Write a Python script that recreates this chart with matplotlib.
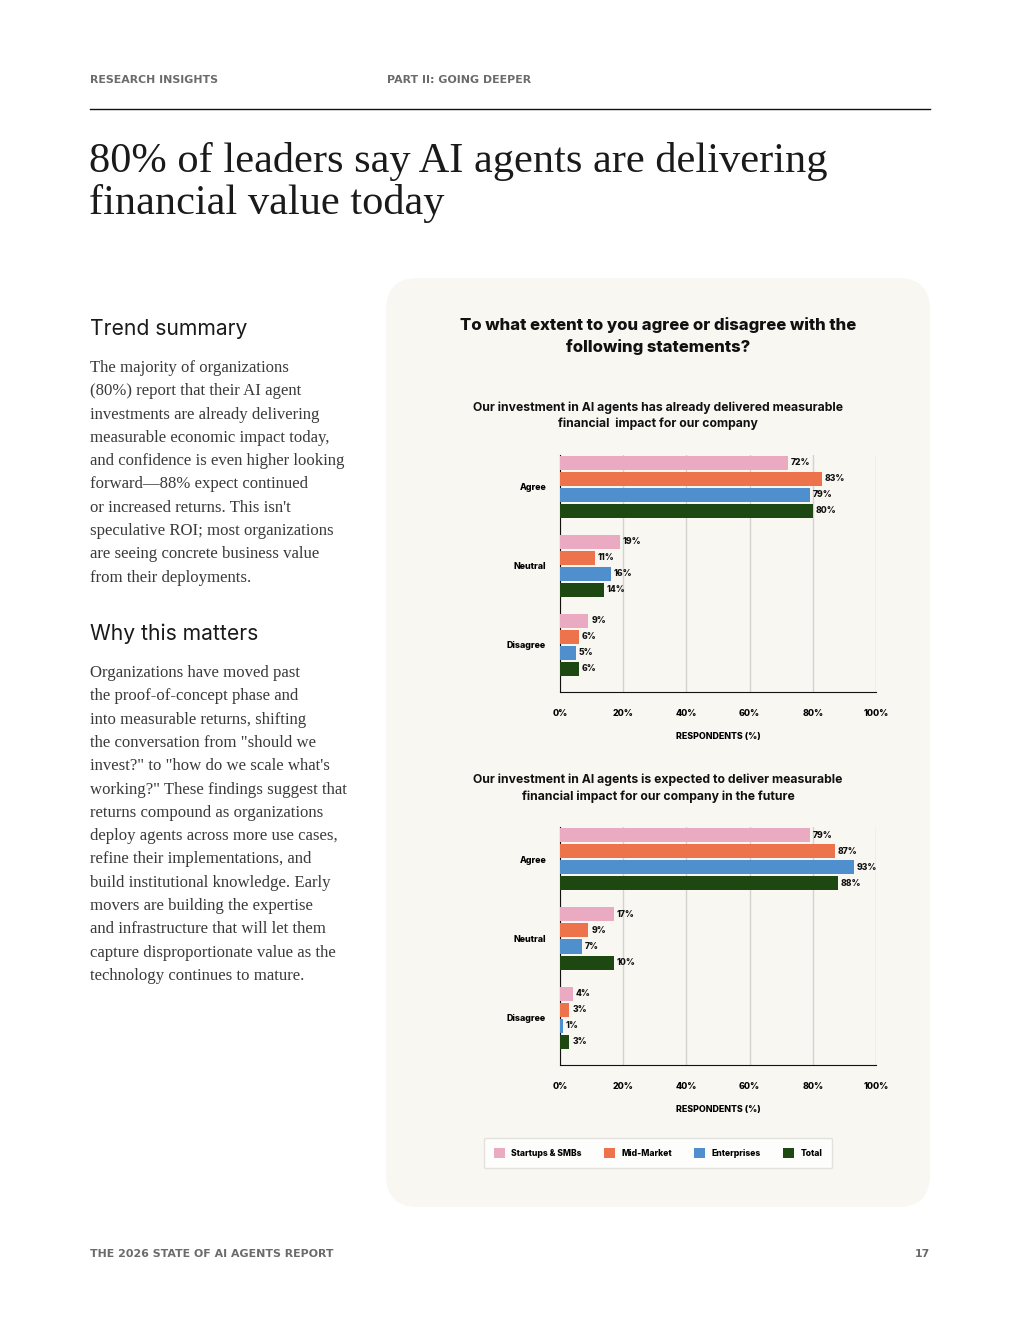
import matplotlib.pyplot as plt
from matplotlib.patches import FancyBboxPatch, Patch

# --- data ---
categories = ['Agree', 'Neutral', 'Disagree']
segments = ['Startups & SMBs', 'Mid-Market', 'Enterprises', 'Total']
colors = ['#EAAAC1', '#EC734B', '#508FCD', '#1E4811']

# chart 1: delivered today
today_startups = [72, 19, 9]
today_midmarket = [83, 11, 6]
today_enterprise = [79, 16, 5]
today_total = [80, 14, 6]

# chart 2: expected in the future
future_startups = [79, 17, 4]
future_midmarket = [87, 9, 3]
future_enterprise = [93, 7, 1]
future_total_bars = [88, 17, 3]   # drawn length in the original
future_total_labels = [88, 10, 3]  # printed label

xticks = [0, 20, 40, 60, 80, 100]

trend_lines = [
    "The majority of organizations",
    "(80%) report that their AI agent",
    "investments are already delivering",
    "measurable economic impact today,",
    "and confidence is even higher looking",
    "forward\u201488% expect continued",
    "or increased returns. This isn't",
    "speculative ROI; most organizations",
    "are seeing concrete business value",
    "from their deployments.",
]
why_lines = [
    "Organizations have moved past",
    "the proof-of-concept phase and",
    "into measurable returns, shifting",
    "the conversation from \"should we",
    "invest?\" to \"how do we scale what's",
    "working?\" These findings suggest that",
    "returns compound as organizations",
    "deploy agents across more use cases,",
    "refine their implementations, and",
    "build institutional knowledge. Early",
    "movers are building the expertise",
    "and infrastructure that will let them",
    "capture disproportionate value as the",
    "technology continues to mature.",
]

W, H = 1020, 1320
fig = plt.figure(figsize=(W / 100, H / 100), dpi=100, facecolor='white')

# page layer in pixel coordinates
bg = fig.add_axes([0, 0, 1, 1])
bg.set_xlim(0, W)
bg.set_ylim(H, 0)
bg.axis('off')

SANS = 'Inter'
SERIF = 'Liberation Serif'
GREY = '#6b6b6b'

bg.text(90, 80, 'RESEARCH INSIGHTS', fontsize=7.9, fontweight='bold', color=GREY,
        family='DejaVu Sans', va='center')
bg.text(387, 80, 'PART II: GOING DEEPER', fontsize=7.9, fontweight='bold', color=GREY,
        family='DejaVu Sans', va='center')
bg.plot([90, 930], [109, 109], color='#111111', lw=1)

bg.text(89, 172, '80% of leaders say AI agents are delivering', fontsize=30.5, family=SERIF,
        color='#1a1a1a', va='baseline')
bg.text(89, 214, 'financial value today', fontsize=30.5, family=SERIF,
        color='#1a1a1a', va='baseline')

bg.text(90, 329, 'Trend summary', fontsize=15.2, family=SANS, color='#1a1a1a', va='center')
for i, line in enumerate(trend_lines):
    bg.text(90, 368 + i * 23.3, line, fontsize=12.1, family=SERIF, color='#3a3a3a', va='center')

bg.text(90, 634, 'Why this matters', fontsize=15.2, family=SANS, color='#1a1a1a', va='center')
for i, line in enumerate(why_lines):
    bg.text(90, 673 + i * 23.3, line, fontsize=12.1, family=SERIF, color='#3a3a3a', va='center')

bg.text(90, 1254, 'THE 2026 STATE OF AI AGENTS REPORT', fontsize=7.9, fontweight='bold',
        color=GREY, family='DejaVu Sans', va='center')
bg.text(930, 1254, '17', fontsize=7.9, fontweight='bold', color=GREY,
        family='DejaVu Sans', va='center', ha='right')

# chart panel
panel = FancyBboxPatch((386, 278), 544, 929, boxstyle='round,pad=0,rounding_size=32',
                       facecolor='#F9F7F2', edgecolor='none')
bg.add_patch(panel)

bg.text(658, 325, 'To what extent to you agree or disagree with the', fontsize=12,
        fontweight='heavy', family=SANS, ha='center', va='center', color='#111111')
bg.text(658, 347, 'following statements?', fontsize=12,
        fontweight='heavy', family=SANS, ha='center', va='center', color='#111111')

bg.text(658, 408, 'Our investment in AI agents has already delivered measurable', fontsize=8.8,
        fontweight='bold', family=SANS, ha='center', va='center', color='#111111')
bg.text(658, 424, 'financial  impact for our company', fontsize=8.8,
        fontweight='bold', family=SANS, ha='center', va='center', color='#111111')

bg.text(658, 780, 'Our investment in AI agents is expected to deliver measurable', fontsize=8.8,
        fontweight='bold', family=SANS, ha='center', va='center', color='#111111')
bg.text(658, 797, 'financial impact for our company in the future', fontsize=8.8,
        fontweight='bold', family=SANS, ha='center', va='center', color='#111111')


def draw_chart(rect, series, labels):
    ax = fig.add_axes(rect)
    ax.patch.set_alpha(0)
    pitch = 0.2025
    offsets = [-1.5 * pitch, -0.5 * pitch, 0.5 * pitch, 1.5 * pitch]
    for vals, labs, off, col in zip(series, labels, offsets, colors):
        ys = [i + off for i in range(len(categories))]
        bars = ax.barh(ys, vals, height=0.178, color=col, zorder=3)
        ax.bar_label(bars, labels=[f'{v}%' for v in labs], padding=2, fontsize=6.2,
                     fontweight='heavy', family=SANS, color='#111111')
    ax.set_xlim(0, 100)
    ax.set_ylim(2.595, -0.405)
    ax.set_yticks(range(len(categories)))
    ax.set_yticklabels(categories, fontsize=6.4, fontweight='heavy', family=SANS)
    ax.set_xticks(xticks)
    ax.set_xticklabels([f'{t}%' for t in xticks], fontsize=6.4, fontweight='heavy', family=SANS)
    ax.tick_params(axis='both', length=0)
    ax.tick_params(axis='y', pad=10)
    ax.tick_params(axis='x', pad=12)
    ax.grid(axis='x', color='#d4d2cf', lw=1, zorder=0)
    for s in ['top', 'right']:
        ax.spines[s].set_visible(False)
    ax.spines['left'].set_color('#111111')
    ax.spines['bottom'].set_color('#111111')
    ax.set_xlabel('RESPONDENTS (%)', fontsize=6.4, fontweight='heavy', family=SANS, labelpad=10)
    return ax


draw_chart([560 / W, 1 - 692 / H, 316 / W, 237 / H],
           [today_startups, today_midmarket, today_enterprise, today_total],
           [today_startups, today_midmarket, today_enterprise, today_total])
draw_chart([560 / W, 1 - 1065 / H, 316 / W, 238 / H],
           [future_startups, future_midmarket, future_enterprise, future_total_bars],
           [future_startups, future_midmarket, future_enterprise, future_total_labels])

handles = [Patch(facecolor=c, edgecolor='none', label=s) for s, c in zip(segments, colors)]
leg = fig.legend(handles=handles, loc='center', bbox_to_anchor=(658 / W, 1 - 1153 / H),
                 ncol=4, frameon=True, fancybox=True,
                 prop={'family': SANS, 'weight': 'heavy', 'size': 6.2},
                 handlelength=1.3, handleheight=1.3, handletextpad=0.7,
                 columnspacing=2.6, borderpad=1.2, borderaxespad=0)
leg.get_frame().set_facecolor('white')
leg.get_frame().set_edgecolor('#dddbd7')
leg.get_frame().set_linewidth(1)

fig.savefig('out.png', dpi=100, facecolor='white')
